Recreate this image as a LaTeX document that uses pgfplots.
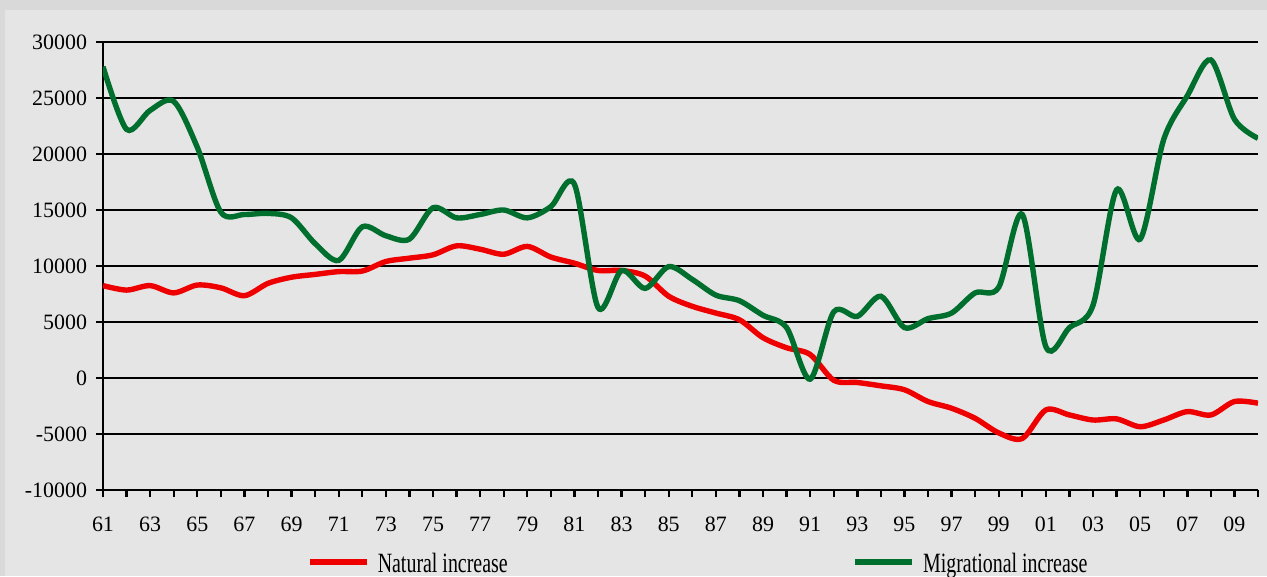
\documentclass[border=0pt]{standalone}
\usepackage{pgfplots}
\pgfplotsset{compat=1.18}
\usepackage{fontspec}
\setmainfont{Liberation Serif}
\definecolor{natred}{RGB}{238,0,0}
\definecolor{miggreen}{RGB}{0,110,45}
\definecolor{outerbg}{RGB}{217,217,217}
\definecolor{innerbg}{RGB}{229,229,229}
\begin{document}
\begin{tikzpicture}[x=1bp,y=1bp]
\fill[outerbg] (-51.5,-43) rectangle (582,245);
\fill[innerbg] (-49,-43) rectangle (582,240);
\begin{axis}[
  at={(0,0)}, anchor=south west,
  scale only axis, width=577.5bp, height=224bp,
  xmin=1961, xmax=2010, ymin=-10000, ymax=30000,
  scaled y ticks=false,
  axis lines=left, axis line style={-, line width=1.4bp, black},
  xtick={1961,1963,...,2009},
  xticklabels={61,63,65,67,69,71,73,75,77,79,81,83,85,87,89,91,93,95,97,99,01,03,05,07,09},
  minor xtick={1962,1964,...,2010},
  ytick={-10000,-5000,...,30000},
  yticklabels={-10000,-5000,0,5000,10000,15000,20000,25000,30000},
  tick align=outside, major tick length=3.5bp, minor tick length=3.5bp,
  every tick/.style={black, line width=1.2bp},
  ymajorgrids, major grid style={black, line width=1.3bp},
  ticklabel style={font=\fontsize{11}{12}\selectfont},
  xticklabel style={yshift=-6.5bp},
  yticklabel style={xshift=-1bp},
  legend style={at={(0.1766,-0.1607)}, anchor=west, draw=none, fill=none,
    legend columns=2, font=\fontsize{10}{12}\selectfont, inner sep=0pt,
    /tikz/every even column/.append style={column sep=170.5bp}},
  legend image code/.code={\draw[#1] (0bp,0bp) -- (28.5bp,0bp);},
]
\addplot[natred, line width=2.7bp, smooth, tension=0.5] coordinates {
(1961,8250) (1962,7850) (1963,8250) (1964,7600) (1965,8300) (1966,8050)
(1967,7350) (1968,8450) (1969,9000) (1970,9250) (1971,9500) (1972,9550)
(1973,10400) (1974,10700) (1975,11000) (1976,11800) (1977,11500) (1978,11050)
(1979,11750) (1980,10800) (1981,10250) (1982,9600) (1983,9600) (1984,9100)
(1985,7300) (1986,6400) (1987,5800) (1988,5200) (1989,3600) (1990,2700)
(1991,2100) (1992,-200) (1993,-400) (1994,-700) (1995,-1050) (1996,-2100)
(1997,-2700) (1998,-3600) (1999,-4900) (2000,-5400) (2001,-2850) (2002,-3300)
(2003,-3750) (2004,-3650) (2005,-4350) (2006,-3750) (2007,-3000) (2008,-3300)
(2009,-2100) (2010,-2250)};
\addlegendentry{\hspace*{2bp}\raisebox{-2.5bp}{\scalebox{1}[1.4]{Natural increase}}}
\addplot[miggreen, line width=2.7bp, smooth, tension=0.5] coordinates {
(1961,27800) (1962,22200) (1963,23900) (1964,24700) (1965,20600) (1966,14800)
(1967,14600) (1968,14700) (1969,14300) (1970,12000) (1971,10500) (1972,13500)
(1973,12700) (1974,12400) (1975,15200) (1976,14300) (1977,14600) (1978,15000)
(1979,14300) (1980,15300) (1981,17300) (1982,6300) (1983,9600) (1984,8000)
(1985,9950) (1986,8800) (1987,7400) (1988,6900) (1989,5600) (1990,4500)
(1991,-100) (1992,5900) (1993,5500) (1994,7300) (1995,4500) (1996,5300)
(1997,5800) (1998,7600) (1999,8100) (2000,14600) (2001,2800) (2002,4500)
(2003,6500) (2004,16800) (2005,12400) (2006,21300) (2007,25200) (2008,28400)
(2009,23100) (2010,21400)};
\addlegendentry{\hspace*{2bp}\raisebox{-2.5bp}{\scalebox{1}[1.4]{Migrational increase}}}
\end{axis}
\pgfresetboundingbox
\useasboundingbox (-51.5,-43) rectangle (582,245);
\end{tikzpicture}
\end{document}
